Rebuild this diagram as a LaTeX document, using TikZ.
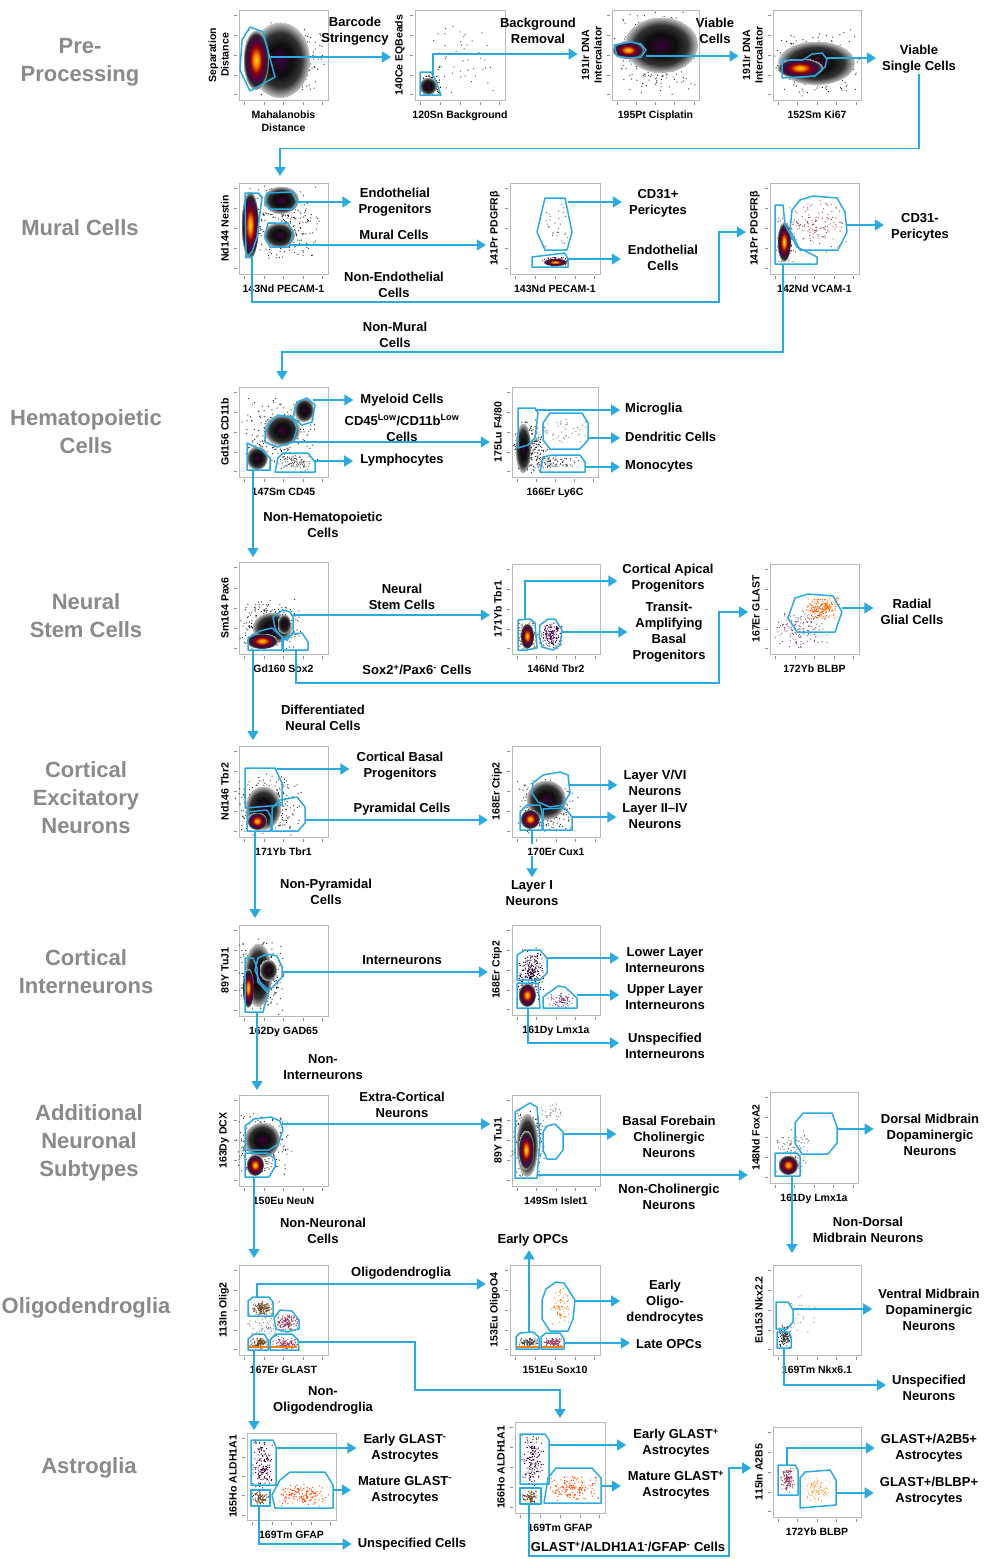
\documentclass[tikz,border=0pt]{standalone}
\usepackage{fontspec}
\setmainfont{Liberation Sans}
\usetikzlibrary{arrows.meta}

\definecolor{gateblue}{RGB}{41,171,226}
\definecolor{rowgray}{RGB}{138,138,138}

% density colours of the panels
\pgfdeclareradialshading{magma}{\pgfpoint{0bp}{0bp}}{color(0bp)=(yellow!85!orange); color(5bp)=(orange); color(11bp)=(red!55!black); color(16bp)=(violet!60!black); color(21bp)=(black!85); color(25bp)=(black!20)}
\pgfdeclareradialshading{dense}{\pgfpoint{0bp}{0bp}}{color(0bp)=(violet!45!black); color(10bp)=(black!95); color(18bp)=(black!80); color(25bp)=(black!20)}

\tikzset{
  gate/.style={draw=gateblue, line width=1.5pt, line join=round},
  flow/.style={draw=gateblue, line width=1.5pt, -{Triangle[length=9pt,width=11pt]}},
  link/.style={draw=gateblue, line width=1.5pt},
  lab/.style={font=\fontsize{13}{16}\selectfont\bfseries, align=center, inner sep=1pt},
  axlab/.style={font=\fontsize{10.5}{12.5}\selectfont\bfseries, align=center, inner sep=0pt},
  rowlab/.style={font=\fontsize{22}{28}\selectfont\bfseries, text=rowgray, align=center},
  plotbox/.style={draw=black!28, line width=.7pt},
  tickmark/.style={draw=black!45, line width=.4pt}
}

% one cytometry panel: name, top left, bottom right, y label, x label
\newcommand{\facsplot}[7]{%
  \draw[plotbox] (#2,#3) rectangle (#4,#5);
  \foreach \tk in {0.06,0.28,0.5,0.72,0.94} {
    \draw[tickmark] (#2-2,{#5-\tk*(#5-#3)}) -- ++(-3,0);
    \draw[tickmark] ({#2+\tk*(#4-#2)},#5+2) -- ++(0,3);
  }
  \node[axlab, rotate=90, anchor=south] (#1y) at (#2-10,{(#3+#5)/2}) {#6};
  \node[axlab, anchor=north] (#1x) at ({(#2+#4)/2},#5+11) {#7};
}
% scattered events round a centre, one path per cloud
\newcommand{\cellcloud}[6]{%
  \fill[#6] \foreach \k in {1,...,#5} {
    ({#1+#3*(rand+rand)/2},{#2+#4*(rand+rand)/2}) rectangle ++(1,1)
  };
}
\newcommand{\hotcloud}[4]{\shade[shading=magma] (#1,#2) ellipse (#3 and #4);}
\newcommand{\darkcloud}[4]{\shade[shading=dense] (#1,#2) ellipse (#3 and #4);}

\begin{document}
\begin{tikzpicture}[x=1pt, y=-1pt]
  \pgfmathsetseed{7}
  \useasboundingbox (0,0) rectangle (984,1559);
  \fill[white] (0,0) rectangle (984,1559);

  % row titles
  \node[rowlab] (tPre) at (80,62) {Pre-\\Processing};
  \node[rowlab] (tMur) at (80,228) {Mural Cells};
  \node[rowlab] (tHem) at (86,432) {Hematopoietic\\Cells};
  \node[rowlab] (tNsc) at (86,616) {Neural\\Stem Cells};
  \node[rowlab] (tExc) at (86,798) {Cortical\\Excitatory\\Neurons};
  \node[rowlab] (tInt) at (86,972) {Cortical\\Interneurons};
  \node[rowlab] (tAdd) at (89,1143) {Additional\\Neuronal\\Subtypes};
  \node[rowlab] (tOli) at (86,1308) {Oligodendroglia};
  \node[rowlab] (tAst) at (89,1468) {Astroglia};

  %%% pre-processing
  \facsplot{pre1}{239}{10}{328}{100}{Separation\\Distance}{Mahalanobis\\Distance}
  \cellcloud{285}{60}{42}{40}{320}{black!80}
  \darkcloud{280}{60}{30}{38}
  \hotcloud{256}{60}{13}{30}
  \draw[gate] (250,27) -- (263,32) -- (275,77) -- (250,91) -- (240,70) -- (242,40) -- cycle;
  \coordinate (g1) at (270,57);

  \facsplot{pre2}{415}{10}{505}{100}{140Ce EQBeads}{120Sn Background}
  \cellcloud{465}{58}{40}{42}{50}{black!70}
  \cellcloud{430}{85}{11}{11}{120}{black}
  \darkcloud{428}{86}{9}{9}
  \draw[gate] (420,72) -- (431,72) -- (435,79) -- (441,95) -- (420,95) -- cycle;
  \coordinate (g2) at (433,75);
  \coordinate (g2t) at (433,54);

  \facsplot{pre3}{612}{10}{699}{100}{191Ir DNA\\Intercalator}{195Pt Cisplatin}
  \cellcloud{656}{52}{44}{44}{320}{black!80}
  \darkcloud{661}{45}{37}{28}
  \hotcloud{628}{50}{16}{9}
  \draw[gate] (614,45) -- (631,42) -- (641,44) -- (646,50) -- (641,57) -- (629,58) -- (617,56) -- cycle;
  \coordinate (g3) at (646,56);

  \facsplot{pre4}{773}{10}{861}{100}{191Ir DNA\\Intercalator}{152Sm Ki67}
  \cellcloud{816}{62}{44}{34}{320}{black!80}
  \darkcloud{816}{63}{39}{22}
  \hotcloud{800}{68}{23}{10}
  \draw[gate] (782,60) -- (803,60) -- (812,54) -- (822,53) -- (827,59) -- (825,67) -- (815,76) -- (782,78) -- cycle;
  \coordinate (g4) at (827,58);

  \node[lab] (lBS) at (355,31) {Barcode\\Stringency};
  \node[lab] (lBR) at (538,31) {Background\\Removal};
  \node[lab] (lVC) at (715,31) {Viable\\Cells};
  \node[lab] (lVSC) at (919,59) {Viable\\Single Cells};
  \coordinate (mIn) at (280,176);

  \draw[flow, shorten >=4pt] (g1) -- (g1 -| pre2y.north);
  \draw[flow, shorten >=4pt] (g2) -- (g2t) -- (g2t -| pre3y.north);
  \draw[flow, shorten >=4pt] (g3) -- (g3 -| pre4y.north);
  \draw[flow, shorten >=5pt] (g4) -- (g4 -| lVSC.west);
  \draw[flow] (lVSC.south) -- ++(0,74) -| (mIn);

  %%% mural cells
  \facsplot{mur1}{239}{183}{328}{274}{Nd144 Nestin}{143Nd PECAM-1}
  \cellcloud{283}{222}{38}{40}{300}{black!80}
  \darkcloud{281}{200}{18}{14}
  \darkcloud{279}{235}{16}{13}
  \hotcloud{250}{225}{9}{34}
  \draw[gate] (245,193) -- (258,193) -- (262,197) -- (257,237) -- (252,252) -- (246,258) -- cycle;
  \draw[gate] (267,193) -- (292,192) -- (297,202) -- (292,209) -- (270,209) -- (265,203) -- cycle;
  \draw[gate] (268,223) -- (288,223) -- (293,233) -- (289,247) -- (270,247) -- (265,237) -- cycle;
  \coordinate (g5) at (297,202);
  \coordinate (g6) at (289,245);
  \coordinate (g7) at (252,256);

  \facsplot{mur2}{510}{183}{600}{274}{141Pr PDGFRβ}{143Nd PECAM-1}
  \cellcloud{555}{225}{15}{24}{30}{black!60}
  \cellcloud{555}{261}{15}{5}{130}{violet!60!black}
  \hotcloud{555}{262}{12}{4}
  \draw[gate] (545,198) -- (565,198) -- (572,232) -- (567,250) -- (545,250) -- (537,232) -- cycle;
  \draw[gate] (532,257) -- (565,253) -- (568,259) -- (568,267) -- (532,267) -- cycle;
  \coordinate (g8) at (568,202);
  \coordinate (g9) at (568,259);

  \facsplot{mur3}{770}{183}{859}{274}{141Pr PDGFRβ}{142Nd VCAM-1}
  \cellcloud{815}{225}{32}{28}{130}{violet!40!brown}
  \cellcloud{786}{240}{10}{24}{160}{brown!60!black}
  \hotcloud{784}{242}{7}{20}
  \draw[gate] (775,205) -- (783,205) -- (785,225) -- (797,247) -- (817,257) -- (817,264) -- (775,264) -- cycle;
  \draw[gate] (800,200) -- (813,196) -- (837,198) -- (845,212) -- (847,232) -- (838,250) -- (800,250) -- (790,230) -- (792,210) -- cycle;
  \coordinate (g10) at (847,225);
  \coordinate (g11) at (783,264);

  \node[lab] (lEP) at (395,202) {Endothelial\\Progenitors};
  \node[lab] (lMC) at (394,235) {Mural Cells};
  \node[lab] (lNE) at (394,285) {Non-Endothelial\\Cells};
  \node[lab] (lCP) at (658,203) {CD31+\\Pericytes};
  \node[lab] (lEC) at (663,258) {Endothelial\\Cells};
  \node[lab] (lCM) at (920,227) {CD31-\\Pericytes};
  \node[lab] (lNM) at (395,335) {Non-Mural\\Cells};
  \coordinate (b1) at (719,302);
  \coordinate (b2) at (719,232);
  \coordinate (b3) at (783,352);
  \coordinate (hIn) at (282,380);

  \draw[flow, shorten >=6pt] (g5) -- (g5 -| lEP.west);
  \draw[flow, shorten >=4pt] (g6) -- (g6 -| mur2y.north);
  \draw[flow, shorten >=4pt] (g7) |- (b1) -- (b2) -- (b2 -| mur3y.north);
  \draw[flow, shorten >=6pt] (g8) -- (g8 -| lCP.west);
  \draw[flow, shorten >=6pt] (g9) -- (g9 -| lEC.west);
  \draw[flow, shorten >=6pt] (g10) -- (g10 -| lCM.west);
  \draw[flow] (g11) -- (b3) -| (hIn);

  %%% hematopoietic cells
  \facsplot{hem1}{239}{387}{328}{477}{Gd156 CD11b}{147Sm CD45}
  \cellcloud{280}{435}{40}{40}{260}{black!80}
  \cellcloud{295}{463}{18}{7}{70}{black!60}
  \darkcloud{282}{430}{18}{16}
  \darkcloud{304}{410}{10}{12}
  \darkcloud{257}{458}{11}{12}
  \draw[gate] (297,402) -- (307,398) -- (315,405) -- (312,422) -- (302,425) -- (293,418) -- (295,407) -- cycle;
  \draw[gate] (270,423) -- (278,415) -- (292,417) -- (297,428) -- (293,442) -- (277,447) -- (265,442) -- (265,432) -- cycle;
  \draw[gate] (247,443) -- (262,450) -- (270,458) -- (270,470) -- (247,470) -- cycle;
  \draw[gate] (278,458) -- (283,453) -- (308,453) -- (315,462) -- (315,472) -- (275,472) -- cycle;
  \coordinate (gMy) at (313,400);
  \coordinate (gLow) at (293,442);
  \coordinate (gLy) at (315,461);
  \coordinate (gNH) at (253,470);

  \facsplot{hem2}{512}{387}{598}{477}{175Lu F4/80}{166Er Ly6C}
  \cellcloud{530}{445}{18}{28}{220}{black!80}
  \cellcloud{550}{462}{30}{8}{100}{black!70}
  \cellcloud{565}{430}{22}{15}{40}{black!50}
  \darkcloud{523}{448}{8}{25}
  \draw[gate] (518,408) -- (535,408) -- (538,413) -- (535,438) -- (528,445) -- (518,448) -- cycle;
  \draw[gate] (550,413) -- (582,413) -- (588,423) -- (588,440) -- (580,449) -- (550,449) -- (543,440) -- (543,423) -- cycle;
  \draw[gate] (543,457) -- (552,455) -- (580,455) -- (585,462) -- (585,472) -- (540,472) -- cycle;
  \coordinate (gMi) at (535,410);
  \coordinate (gDC) at (588,438);
  \coordinate (gMo) at (585,467);

  \node[lab] (lMy) at (402,400) {Myeloid Cells};
  \node[lab] (lLow) at (402,428) {CD45\textsuperscript{Low}/CD11b\textsuperscript{Low}\\Cells};
  \node[lab] (lLy) at (402,460) {Lymphocytes};
  \node[lab] (lNH) at (323,525) {Non-Hematopoietic\\Cells};
  \node[lab, anchor=west] (lMi) at (624,409) {Microglia};
  \node[lab, anchor=west] (lDC) at (624,437) {Dendritic Cells};
  \node[lab, anchor=west] (lMo) at (624,466) {Monocytes};
  \coordinate (nIn) at (253,557);

  \draw[flow, shorten >=6pt] (gMy) -- (gMy -| lMy.west);
  \draw[flow, shorten >=4pt] (gLow) -- (gLow -| hem2y.north);
  \draw[flow, shorten >=6pt] (gLy) -- (gLy -| lLy.west);
  \draw[flow] (gNH) -- (nIn);
  \draw[flow, shorten >=4pt] (gMi) -- (gMi -| lMi.west);
  \draw[flow, shorten >=4pt] (gDC) -- (gDC -| lDC.west);
  \draw[flow, shorten >=4pt] (gMo) -- (gMo -| lMo.west);

  %%% neural stem cells
  \facsplot{nsc1}{239}{562}{328}{654}{Sm164 Pax6}{Gd160 Sox2}
  \cellcloud{270}{626}{32}{28}{280}{black!80}
  \darkcloud{272}{628}{20}{16}
  \hotcloud{262}{641}{16}{8}
  \darkcloud{284}{624}{7}{10}
  \draw[gate] (248,638) -- (260,631) -- (272,628) -- (282,637) -- (282,650) -- (248,650) -- cycle;
  \draw[gate] (273,617) -- (283,610) -- (290,612) -- (293,617) -- (293,633) -- (287,640) -- (280,635) -- (275,628) -- cycle;
  \draw[gate] (283,640) -- (293,634) -- (302,633) -- (308,642) -- (308,650) -- (283,650) -- cycle;
  \coordinate (gNS) at (293,615);
  \coordinate (gSP) at (296,650);
  \coordinate (gDN) at (253,650);

  \facsplot{nsc2}{512}{564}{600}{654}{171Yb Tbr1}{146Nd Tbr2}
  \cellcloud{527}{635}{10}{16}{170}{brown!70!black}
  \hotcloud{527}{636}{7}{13}
  \cellcloud{550}{635}{12}{15}{140}{violet!55!black}
  \draw[gate] (518,620) -- (530,619) -- (535,623) -- (537,648) -- (527,650) -- (518,650) -- cycle;
  \draw[gate] (540,625) -- (548,619) -- (555,619) -- (562,630) -- (560,645) -- (553,650) -- (542,647) -- (539,635) -- cycle;
  \coordinate (gCA) at (525,620);
  \coordinate (b6) at (525,581);
  \coordinate (gTA) at (561,632);

  \facsplot{nsc3}{770}{564}{859}{654}{167Er GLAST}{172Yb BLBP}
  \cellcloud{800}{628}{28}{24}{150}{violet!45!gray}
  \cellcloud{822}{608}{18}{12}{170}{orange!85!red}
  \draw[gate] (795,598) -- (808,594) -- (833,596) -- (842,612) -- (835,632) -- (797,632) -- (788,618) -- cycle;
  \coordinate (gRG) at (842,608);

  \node[lab] (lNS) at (402,597) {Neural\\Stem Cells};
  \node[lab] (lSP) at (417,670) {Sox2\textsuperscript{+}/Pax6\textsuperscript{-} Cells};
  \node[lab] (lDN) at (323,718) {Differentiated\\Neural Cells};
  \node[lab] (lCA) at (668,578) {Cortical Apical\\Progenitors};
  \node[lab] (lTA) at (669,632) {Transit-\\Amplifying\\Basal\\Progenitors};
  \node[lab] (lRG) at (912,612) {Radial\\Glial Cells};
  \coordinate (b4) at (719,683);
  \coordinate (b5) at (719,612);
  \coordinate (eIn) at (253,740);

  \draw[flow, shorten >=4pt] (gNS) -- (gNS -| nsc2y.north);
  \draw[flow, shorten >=4pt] (gSP) |- (b4) -- (b5) -- (b5 -| nsc3y.north);
  \draw[flow] (gDN) -- (eIn);
  \draw[flow, shorten >=4pt] (gCA) -- (b6) -- (b6 -| lCA.west);
  \draw[flow, shorten >=4pt] (gTA) -- (gTA -| lTA.west);
  \draw[flow, shorten >=6pt] (gRG) -- (gRG -| lRG.west);

  %%% cortical excitatory neurons
  \facsplot{exc1}{239}{746}{328}{837}{Nd146 Tbr2}{171Yb Tbr1}
  \cellcloud{268}{805}{34}{32}{320}{black!80}
  \darkcloud{263}{808}{18}{22}
  \hotcloud{257}{821}{10}{9}
  \draw[gate] (245,768) -- (275,768) -- (282,783) -- (282,805) -- (245,808) -- cycle;
  \draw[gate] (247,812) -- (267,810) -- (271,817) -- (271,831) -- (247,831) -- cycle;
  \draw[gate] (272,808) -- (280,800) -- (297,797) -- (305,807) -- (305,823) -- (298,831) -- (272,831) -- cycle;
  \coordinate (gCB) at (277,769);
  \coordinate (gPy) at (305,820);
  \coordinate (gNP) at (255,831);

  \facsplot{exc2}{512}{746}{600}{837}{168Er Ctip2}{170Er Cux1}
  \cellcloud{546}{805}{32}{30}{320}{black!80}
  \darkcloud{546}{800}{20}{20}
  \hotcloud{530}{819}{10}{10}
  \draw[gate] (533,783) -- (543,775) -- (560,772) -- (568,775) -- (570,793) -- (563,805) -- (550,807) -- (538,802) -- (532,793) -- cycle;
  \draw[gate] (520,812) -- (527,805) -- (540,805) -- (542,812) -- (542,830) -- (520,830) -- cycle;
  \draw[gate] (543,809) -- (565,808) -- (572,817) -- (572,830) -- (543,830) -- cycle;
  \coordinate (gL56) at (570,785);
  \coordinate (gL24) at (572,817);
  \coordinate (gL1) at (532,830);

  \node[lab] (lCB) at (400,766) {Cortical Basal\\Progenitors};
  \node[lab] (lPy) at (402,809) {Pyramidal Cells};
  \node[lab] (lNP) at (326,892) {Non-Pyramidal\\Cells};
  \node[lab] (lL56) at (655,783) {Layer V/VI\\Neurons};
  \node[lab] (lL24) at (655,816) {Layer II--IV\\Neurons};
  \node[lab] (lL1) at (532,893) {Layer I\\Neurons};
  \coordinate (iIn) at (255,918);

  \draw[flow, shorten >=6pt] (gCB) -- (gCB -| lCB.west);
  \draw[flow, shorten >=4pt] (gPy) -- (gPy -| exc2y.north);
  \draw[flow] (gNP) -- (iIn);
  \draw[flow, shorten >=5pt] (gL56) -- (gL56 -| lL56.west);
  \draw[flow, shorten >=5pt] (gL24) -- (gL24 -| lL24.west);
  \draw[link, shorten >=4pt] (gL1) -- (gL1 |- exc2x.north);
  \draw[flow, shorten >=2pt] (gL1 |- exc2x.south) -- (lL1.north);

  %%% cortical interneurons
  \facsplot{int1}{239}{925}{328}{1016}{89Y TuJ1}{162Dy GAD65}
  \cellcloud{261}{975}{24}{42}{320}{black!80}
  \darkcloud{258}{975}{14}{32}
  \hotcloud{248}{988}{6}{20}
  \darkcloud{268}{970}{9}{11}
  \draw[gate] (245,958) -- (253,958) -- (257,968) -- (258,982) -- (268,993) -- (263,1012) -- (245,1012) -- cycle;
  \draw[gate] (258,958) -- (267,954) -- (277,956) -- (282,967) -- (282,977) -- (273,987) -- (268,990) -- (260,982) -- (255,970) -- cycle;
  \coordinate (gIN) at (282,972);
  \coordinate (gNI) at (257,1012);

  \facsplot{int2}{512}{925}{600}{1015}{168Er Ctip2}{161Dy Lmx1a}
  \cellcloud{530}{972}{14}{28}{240}{violet!40!black}
  \hotcloud{527}{995}{9}{12}
  \cellcloud{560}{1000}{16}{9}{70}{violet!40!gray}
  \draw[gate] (517,955) -- (525,950) -- (540,950) -- (547,958) -- (547,973) -- (540,980) -- (517,980) -- cycle;
  \draw[gate] (517,983) -- (538,983) -- (540,1008) -- (517,1008) -- cycle;
  \draw[gate] (543,997) -- (558,986) -- (565,987) -- (577,998) -- (577,1008) -- (543,1008) -- cycle;
  \coordinate (gLL) at (547,958);
  \coordinate (gUL) at (577,995);
  \coordinate (gUI) at (528,1008);
  \coordinate (b7) at (528,1043);

  \node[lab] (lIN) at (402,960) {Interneurons};
  \node[lab] (lNI) at (323,1067) {Non-\\Interneurons};
  \node[lab] (lLL) at (665,960) {Lower Layer\\Interneurons};
  \node[lab] (lUL) at (665,997) {Upper Layer\\Interneurons};
  \node[lab] (lUI) at (665,1046) {Unspecified\\Interneurons};
  \coordinate (aIn) at (257,1090);

  \draw[flow, shorten >=4pt] (gIN) -- (gIN -| int2y.north);
  \draw[flow] (gNI) -- (aIn);
  \draw[flow, shorten >=5pt] (gLL) -- (gLL -| lLL.west);
  \draw[flow, shorten >=5pt] (gUL) -- (gUL -| lUL.west);
  \draw[flow, shorten >=5pt] (gUI) -- (b7) -- (b7 -| lUI.west);

  %%% additional neuronal subtypes
  \facsplot{add1}{239}{1095}{328}{1186}{163Dy DCX}{150Eu NeuN}
  \cellcloud{263}{1142}{30}{34}{300}{black!80}
  \darkcloud{262}{1140}{18}{18}
  \hotcloud{255}{1165}{9}{11}
  \draw[gate] (245,1126) -- (254,1119) -- (271,1117) -- (280,1121) -- (283,1130) -- (278,1144) -- (269,1150) -- (245,1150) -- cycle;
  \draw[gate] (245,1153) -- (267,1153) -- (275,1159) -- (275,1167) -- (269,1177) -- (245,1177) -- cycle;
  \coordinate (gEC) at (282,1124);
  \coordinate (gNN) at (254,1177);

  \facsplot{add2}{512}{1095}{600}{1186}{89Y TuJ1}{149Sm Islet1}
  \cellcloud{528}{1145}{18}{38}{320}{black!80}
  \darkcloud{527}{1145}{11}{32}
  \hotcloud{526}{1150}{8}{20}
  \cellcloud{550}{1112}{14}{10}{30}{black!50}
  \draw[gate] (515,1112) -- (530,1103) -- (537,1107) -- (540,1140) -- (537,1178) -- (515,1178) -- cycle;
  \draw[gate] (547,1126) -- (555,1124) -- (563,1132) -- (563,1150) -- (556,1159) -- (547,1159) -- (543,1150) -- (543,1132) -- cycle;
  \coordinate (gBF) at (563,1134);
  \coordinate (gNC) at (537,1175);

  \facsplot{add3}{770}{1092}{858}{1183}{148Nd FoxA2}{161Dy Lmx1a}
  \cellcloud{792}{1150}{18}{24}{110}{black!55}
  \cellcloud{788}{1165}{11}{10}{120}{brown!70!black}
  \hotcloud{788}{1165}{10}{10}
  \draw[gate] (775,1153) -- (797,1153) -- (800,1157) -- (800,1176) -- (775,1176) -- cycle;
  \draw[gate] (803,1113) -- (832,1113) -- (837,1127) -- (837,1143) -- (828,1154) -- (802,1154) -- (795,1143) -- (795,1123) -- cycle;
  \coordinate (gDM) at (837,1129);
  \coordinate (gND) at (792,1176);

  \node[lab] (lEC) at (402,1105) {Extra-Cortical\\Neurons};
  \node[lab] (lNN) at (323,1231) {Non-Neuronal\\Cells};
  \node[lab] (lBF) at (669,1137) {Basal Forebain\\Cholinergic\\Neurons};
  \node[lab] (lNC) at (669,1197) {Non-Cholinergic\\Neurons};
  \node[lab] (lDM) at (930,1135) {Dorsal Midbrain\\Dopaminergic\\Neurons};
  \node[lab] (lND) at (868,1230) {Non-Dorsal\\Midbrain Neurons};
  \coordinate (oIn) at (254,1258);
  \coordinate (ocIn) at (792,1253);

  \draw[flow, shorten >=4pt] (gEC) -- (gEC -| add2y.north);
  \draw[flow] (gNN) -- (oIn);
  \draw[flow, shorten >=5pt] (gBF) -- (gBF -| lBF.west);
  \draw[flow, shorten >=4pt] (gNC) -- (gNC -| add3y.north);
  \draw[flow, shorten >=6pt] (gDM) -- (gDM -| lDM.west);
  \draw[flow] (gND) -- (ocIn);

  %%% oligodendroglia
  \facsplot{oli1}{239}{1265}{328}{1355}{113In Olig2}{167Er GLAST}
  \cellcloud{270}{1325}{24}{27}{110}{black!50}
  \cellcloud{261}{1308}{12}{7}{120}{brown!60!black}
  \cellcloud{287}{1321}{11}{9}{120}{violet!50!brown}
  \cellcloud{258}{1343}{9}{6}{100}{brown!60!black}
  \cellcloud{284}{1343}{13}{6}{100}{violet!50!brown}
  \fill[orange] (249,1346) rectangle (297,1348);
  \draw[gate] (248,1301) -- (253,1297) -- (269,1297) -- (273,1302) -- (273,1316) -- (248,1316) -- cycle;
  \draw[gate] (274,1318) -- (280,1310) -- (292,1311) -- (299,1320) -- (299,1329) -- (287,1332) -- (276,1329) -- cycle;
  \draw[gate] (248,1339) -- (254,1334) -- (264,1334) -- (268,1340) -- (268,1350) -- (248,1350) -- cycle;
  \draw[gate] (270,1340) -- (276,1334) -- (292,1334) -- (298,1340) -- (299,1350) -- (270,1350) -- cycle;
  \coordinate (gOD) at (257,1297);
  \coordinate (b8) at (257,1284);
  \coordinate (gAS) at (299,1342);
  \coordinate (b10) at (415,1390);
  \coordinate (gNO) at (254,1350);

  \facsplot{oli2}{510}{1265}{600}{1355}{153Eu OligoO4}{151Eu Sox10}
  \cellcloud{560}{1306}{10}{20}{60}{orange!70!brown}
  \cellcloud{528}{1342}{10}{5}{90}{black!70}
  \cellcloud{552}{1342}{10}{5}{90}{violet!50!brown}
  \fill[orange] (517,1346) rectangle (563,1348);
  \draw[gate] (516,1337) -- (520,1333) -- (533,1332) -- (539,1337) -- (539,1349) -- (516,1349) -- cycle;
  \draw[gate] (541,1337) -- (546,1333) -- (560,1333) -- (564,1339) -- (564,1349) -- (541,1349) -- cycle;
  \draw[gate] (546,1289) -- (556,1282) -- (564,1283) -- (575,1300) -- (573,1319) -- (568,1331) -- (550,1331) -- (542,1319) -- (542,1300) -- cycle;
  \coordinate (gEO) at (529,1332);
  \coordinate (gEOl) at (575,1301);
  \coordinate (gLO) at (564,1343);

  \facsplot{oli3}{773}{1265}{861}{1355}{Eu153 Nkx2.2}{169Tm Nkx6.1}
  \cellcloud{800}{1318}{20}{25}{25}{black!40}
  \cellcloud{784}{1336}{7}{12}{100}{black!80}
  \draw[gate] (776,1302) -- (788,1302) -- (793,1310) -- (793,1322) -- (787,1329) -- (776,1329) -- cycle;
  \draw[gate] (777,1332) -- (789,1332) -- (791,1337) -- (791,1348) -- (777,1348) -- cycle;
  \coordinate (gVM) at (793,1309);
  \coordinate (gUN) at (784,1348);
  \coordinate (b12) at (784,1385);

  \node[lab] (lOD) at (401,1273) {Oligodendroglia};
  \node[lab] (lNO) at (323,1400) {Non-\\Oligodendroglia};
  \node[lab] (lEO) at (533,1240) {Early OPCs};
  \node[lab] (lEOl) at (665,1302) {Early\\Oligo-\\dendrocytes};
  \node[lab] (lLO) at (669,1344) {Late OPCs};
  \node[lab] (lVM) at (929,1310) {Ventral Midbrain\\Dopaminergic\\Neurons};
  \node[lab] (lUN) at (929,1388) {Unspecified\\Neurons};
  \coordinate (sIn) at (560,1418);
  \coordinate (asIn) at (254,1430);

  \draw[flow, shorten >=4pt] (gOD) -- (b8) -- (b8 -| oli2y.north);
  \draw[flow] (gAS) -| (b10) -| (sIn);
  \draw[flow] (gNO) -- (asIn);
  \draw[flow, shorten >=3pt] (gEO) -- (gEO |- lEO.south);
  \draw[flow, shorten >=5pt] (gEOl) -- (gEOl -| lEOl.west);
  \draw[flow, shorten >=5pt] (gLO) -- (gLO -| lLO.west);
  \draw[flow, shorten >=5pt] (gVM) -- (gVM -| lVM.west);
  \draw[flow, shorten >=5pt] (gUN) -- (b12) -- (b12 -| lUN.west);

  %%% astroglia
  \facsplot{ast1}{247}{1433}{336}{1520}{165Ho ALDH1A1}{169Tm GFAP}
  \cellcloud{262}{1468}{12}{30}{150}{violet!50!black}
  \cellcloud{302}{1494}{28}{12}{150}{orange!60!red}
  \cellcloud{259}{1498}{8}{7}{80}{brown!60!black}
  \draw[gate] (251,1440) -- (273,1440) -- (276,1447) -- (276,1485) -- (251,1485) -- cycle;
  \draw[gate] (251,1490) -- (270,1490) -- (270,1506) -- (251,1506) -- cycle;
  \draw[gate] (280,1480) -- (290,1472) -- (325,1472) -- (333,1485) -- (333,1508) -- (275,1508) -- (272,1495) -- cycle;
  \coordinate (gEGm) at (276,1448);
  \coordinate (gMGm) at (333,1490);
  \coordinate (gUC) at (259,1506);
  \coordinate (b13) at (259,1544);

  \facsplot{ast2}{515}{1422}{605}{1513}{166Ho ALDH1A1}{169Tm GFAP}
  \cellcloud{532}{1460}{12}{28}{150}{violet!50!black}
  \cellcloud{573}{1488}{28}{13}{150}{orange!60!red}
  \cellcloud{530}{1496}{9}{7}{80}{brown!60!black}
  \draw[gate] (520,1434) -- (545,1434) -- (549,1440) -- (549,1484) -- (520,1484) -- cycle;
  \draw[gate] (520,1488) -- (541,1488) -- (541,1504) -- (520,1504) -- cycle;
  \draw[gate] (548,1478) -- (556,1468) -- (592,1468) -- (601,1478) -- (601,1503) -- (544,1503) -- cycle;
  \coordinate (gEGp) at (549,1445);
  \coordinate (gMGp) at (601,1486);
  \coordinate (gGA) at (529,1504);
  \coordinate (b15) at (729,1556);
  \coordinate (b16) at (729,1468);

  \facsplot{ast3}{773}{1427}{861}{1517}{115In A2B5}{172Yb BLBP}
  \cellcloud{787}{1480}{8}{14}{110}{violet!50!brown}
  \cellcloud{816}{1490}{15}{14}{100}{orange!70}
  \draw[gate] (778,1465) -- (795,1465) -- (798,1470) -- (798,1495) -- (778,1495) -- cycle;
  \draw[gate] (805,1472) -- (830,1470) -- (836,1480) -- (836,1505) -- (800,1508) -- (800,1478) -- cycle;
  \coordinate (gA2) at (787,1465);
  \coordinate (b17) at (787,1448);
  \coordinate (gBL) at (836,1493);

  \node[lab] (lEGm) at (405,1448) {Early GLAST\textsuperscript{-}\\Astrocytes};
  \node[lab] (lMGm) at (405,1490) {Mature GLAST\textsuperscript{-}\\Astrocytes};
  \node[lab] (lUC) at (412,1544) {Unspecified Cells};
  \node[lab] (lEGp) at (676,1443) {Early GLAST\textsuperscript{+}\\Astrocytes};
  \node[lab] (lMGp) at (676,1485) {Mature GLAST\textsuperscript{+}\\Astrocytes};
  \node[lab] (lGA) at (628,1547) {GLAST\textsuperscript{+}/ALDH1A1\textsuperscript{-}/GFAP\textsuperscript{-} Cells};
  \node[lab] (lA2) at (929,1448) {GLAST+/A2B5+\\Astrocytes};
  \node[lab] (lBL) at (929,1491) {GLAST+/BLBP+\\Astrocytes};

  \draw[flow, shorten >=6pt] (gEGm) -- (gEGm -| lEGm.west);
  \draw[flow, shorten >=6pt] (gMGm) -- (gMGm -| lMGm.west);
  \draw[flow, shorten >=5pt] (gUC) -- (b13) -- (b13 -| lUC.west);
  \draw[flow, shorten >=6pt] (gEGp) -- (gEGp -| lEGp.west);
  \draw[flow, shorten >=6pt] (gMGp) -- (gMGp -| lMGp.west);
  \draw[flow, shorten >=4pt] (gGA) |- (b15) -- (b16) -- (b16 -| ast3y.north);
  \draw[flow, shorten >=5pt] (gA2) -- (b17) -- (b17 -| lA2.west);
  \draw[flow, shorten >=5pt] (gBL) -- (gBL -| lBL.west);
\end{tikzpicture}
\end{document}
